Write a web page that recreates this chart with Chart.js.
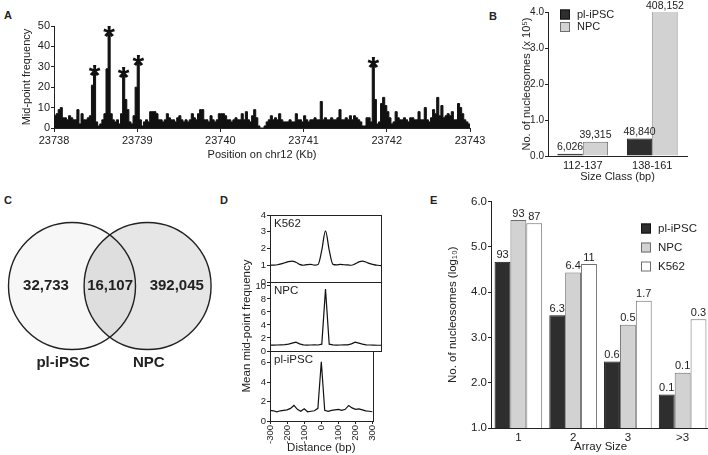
<!DOCTYPE html>
<html>
<head>
<meta charset="utf-8">
<script src="https://cdn.jsdelivr.net/npm/chart.js@4.4.0/dist/chart.umd.min.js"></script>
<style>
  html, body { margin: 0; padding: 0; background: #fff; }
  body { width: 708px; height: 455px; position: relative; overflow: hidden; color: #222;
         font-family: 'Liberation Sans', Arial, sans-serif; }
  .panel { position: absolute; }
  .tag { position: absolute; font: bold 11px 'Liberation Sans', Arial, sans-serif; line-height: 12px; }
</style>
</head>
<body>
<div class="tag" style="left:4px;top:9px">A</div>
<div class="tag" style="left:489px;top:10px">B</div>
<div class="tag" style="left:4px;top:194px">C</div>
<div class="tag" style="left:220px;top:194px">D</div>
<div class="tag" style="left:430px;top:194px">E</div>

<div class="panel" style="left:20px;top:0;width:470px;height:162px"><canvas id="chart-a"></canvas></div>
<div class="panel" style="left:520px;top:0;width:180px;height:184px"><canvas id="chart-b"></canvas></div>
<div class="panel" style="left:0;top:210px;width:230px;height:170px"><canvas id="chart-c"></canvas></div>
<div class="panel" style="left:225px;top:205px;width:160px;height:250px"><canvas id="chart-d1"></canvas></div>
<div class="panel" style="left:225px;top:205px;width:160px;height:250px"><canvas id="chart-d2"></canvas></div>
<div class="panel" style="left:225px;top:205px;width:160px;height:250px"><canvas id="chart-d3"></canvas></div>
<div class="panel" style="left:446px;top:190px;width:264px;height:264px"><canvas id="chart-e"></canvas></div>

<script>
// ── Data ───────────────────────────────────────────────────
// A: mid-point counts on chr12, 25 bp bins from 23738 kb
const binStartKb = 23738;
const binWidthKb = 0.025;
const chr12Counts = [
  6,7,9,10,5,5,4,6,5,4,4,9,2,7,4,4,5,6,21,27,
  3,1,2,4,7,29,46,7,4,3,4,2,7,26,14,9,3,2,6,20,
  32,4,1,3,4,3,8,8,8,7,4,4,3,4,7,5,4,4,3,5,
  6,4,3,4,3,4,7,5,4,7,9,9,4,4,3,6,4,3,4,7,
  7,7,6,4,4,3,4,5,4,4,7,4,8,4,3,6,9,5,1,0,
  0,1,3,4,6,4,5,4,7,4,3,3,3,4,3,3,7,4,4,3,
  6,4,3,4,4,5,4,4,13,4,5,4,4,5,4,4,5,9,4,4,
  5,4,6,4,6,5,4,3,1,1,5,5,3,31,14,2,3,12,15,11,
  8,5,2,3,8,5,4,4,5,4,3,5,5,4,4,8,4,4,10,4,
  3,5,9,7,15,6,11,5,6,7,6,8,4,4,12,10,7,4,3,2
];
const starBins = [19, 26, 33, 40, 153];

// B: nucleosomes per size class
const sizeClasses = ['112-137', '138-161'];
const plIpscSizeCounts = [6026, 48840];
const npcSizeCounts = [39315, 408152];

// C: overlap of nucleosome positions
const vennSets = ['pl-iPSC', 'NPC'];
const vennCounts = [32733, 16107, 392045];

// D: mean mid-point frequency around nucleosome centres
const profileNames = ['K562', 'NPC', 'pl-iPSC'];
const distanceBp = [-300,-280,-260,-240,-220,-200,-180,-160,-140,-120,-100,-80,-60,-40,-20,0,
                    20,40,60,80,100,120,140,160,180,200,220,240,260,280,300];
const k562Profile = [1.00,1.01,1.03,1.08,1.15,1.22,1.25,1.18,1.05,1.00,1.04,1.05,1.01,1.05,1.9,3.05,
                     1.9,1.05,1.02,1.05,1.03,1.02,1.00,1.08,1.20,1.25,1.18,1.10,1.04,1.00,0.98];
const npcProfile = [0.90,0.90,0.92,0.95,0.98,1.05,1.20,1.35,1.10,0.95,0.90,0.92,0.95,0.92,1.05,9.5,
                    1.05,0.95,0.90,0.92,0.95,0.95,1.10,1.35,1.20,1.05,0.95,0.92,0.90,0.88,0.88];
const plIpscProfile = [1.10,1.05,0.95,1.05,1.10,1.15,1.30,1.60,1.20,1.00,1.25,0.95,1.00,1.05,1.30,6.1,
                       1.10,1.00,1.10,1.15,1.20,1.10,1.20,1.60,1.35,1.20,1.25,1.15,1.05,1.00,0.95];

// E: nucleosome arrays (log10 counts) and % labels
const arraySizes = ['1', '2', '3', '>3'];
const plIpscArrayLog = [4.67, 3.49, 2.47, 1.74];
const npcArrayLog = [5.59, 4.43, 3.28, 2.22];
const k562ArrayLog = [5.52, 4.62, 3.81, 3.40];
const plIpscArrayPct = ['93', '6.3', '0.6', '0.1'];
const npcArrayPct = ['93', '6.4', '0.5', '0.1'];
const k562ArrayPct = ['87', '11', '1.7', '0.3'];

// ── Shared style ───────────────────────────────────────────
const FONT = "'Liberation Sans', Arial, sans-serif";
Chart.defaults.font.family = FONT;
Chart.defaults.font.size = 11;
Chart.defaults.color = '#222';
Chart.defaults.animation = false;
Chart.defaults.plugins.legend.display = false;
Chart.defaults.plugins.tooltip.enabled = false;

const INK = '#222';
const DARK = '#2e2e2e', GREY = '#d2d2d2', WHITE = '#ffffff', EDGE = '#6e6e6e';

function tickGrid(len) {
  return { display: true, drawOnChartArea: false, drawTicks: true, tickLength: len, color: INK, lineWidth: 1 };
}
const noGrid = { display: false, drawTicks: false };
const axisBorder = { display: true, color: INK, width: 1 };

function withCommas(n) {
  return String(n).replace(/\B(?=(\d{3})+(?!\d))/g, ',');
}

// ── Plugins ────────────────────────────────────────────────
const starPlugin = {
  id: 'stars',
  afterDatasetsDraw(chart) {
    const ctx = chart.ctx, xs = chart.scales.x, ys = chart.scales.y;
    ctx.save();
    ctx.fillStyle = '#111';
    ctx.font = 'bold 30px ' + FONT;
    ctx.textAlign = 'center';
    ctx.textBaseline = 'alphabetic';
    starBins.forEach(function(b) {
      const x = xs.getPixelForValue(binStartKb + (b + 0.5) * binWidthKb);
      const y = ys.getPixelForValue(chr12Counts[b]);
      ctx.fillText('*', x, y + 12);
    });
    ctx.restore();
  }
};

const barLabelPlugin = {
  id: 'barLabels',
  afterDatasetsDraw(chart, args, opts) {
    const ctx = chart.ctx;
    ctx.save();
    ctx.font = (opts.size || 10.5) + 'px ' + FONT;
    ctx.fillStyle = INK;
    ctx.textAlign = 'center';
    ctx.textBaseline = 'bottom';
    chart.data.datasets.forEach(function(ds, di) {
      chart.getDatasetMeta(di).data.forEach(function(bar, i) {
        const y = Math.max(bar.y, chart.chartArea.top);
        ctx.fillText(ds.valueLabels[i], bar.x, y - 1);
      });
    });
    ctx.restore();
  }
};

const boxLegendPlugin = {
  id: 'boxLegend',
  afterDraw(chart, args, opts) {
    const ctx = chart.ctx;
    ctx.save();
    ctx.font = opts.size + 'px ' + FONT;
    ctx.textBaseline = 'middle';
    chart.data.datasets.forEach(function(ds, i) {
      const y = opts.y + i * opts.gap;
      ctx.fillStyle = ds.backgroundColor;
      ctx.fillRect(opts.x, y - 5, 10, 10);
      ctx.strokeStyle = ds.borderColor;
      ctx.lineWidth = 1;
      ctx.strokeRect(opts.x + 0.5, y - 4.5, 9, 9);
      ctx.fillStyle = INK;
      ctx.fillText(ds.label, opts.x + 17, y);
    });
    ctx.restore();
  }
};

const panelBoxPlugin = {
  id: 'panelBox',
  afterDraw(chart, args, opts) {
    const a = chart.chartArea, ctx = chart.ctx;
    ctx.save();
    ctx.strokeStyle = INK;
    ctx.lineWidth = 1;
    ctx.strokeRect(Math.round(a.left) + 0.5, Math.round(a.top) + 0.5,
                   Math.round(a.right - a.left), Math.round(a.bottom - a.top));
    ctx.font = '11.5px ' + FONT;
    ctx.fillStyle = INK;
    ctx.textBaseline = 'top';
    ctx.fillText(opts.name, a.left + 4, a.top + 3);
    if (opts.yTitle) {
      ctx.translate(opts.yTitle.x, opts.yTitle.y);
      ctx.rotate(-Math.PI / 2);
      ctx.textAlign = 'center';
      ctx.textBaseline = 'middle';
      ctx.fillText(opts.yTitle.text, 0, 0);
    }
    ctx.restore();
  }
};

const vennLayout = { centers: [0, 1.19], countX: [-0.41, 0.6, 1.65], setX: [-0.14, 1.21], setY: -1.21 };
const vennTextPlugin = {
  id: 'vennText',
  afterDatasetsDraw(chart) {
    const ctx = chart.ctx, xs = chart.scales.x, ys = chart.scales.y;
    ctx.save();
    ctx.fillStyle = INK;
    ctx.textAlign = 'center';
    ctx.textBaseline = 'middle';
    ctx.font = 'bold 15px ' + FONT;
    vennCounts.forEach(function(c, i) {
      ctx.fillText(withCommas(c), xs.getPixelForValue(vennLayout.countX[i]), ys.getPixelForValue(0));
    });
    vennSets.forEach(function(s, i) {
      ctx.fillText(s, xs.getPixelForValue(vennLayout.setX[i]), ys.getPixelForValue(vennLayout.setY));
    });
    ctx.restore();
  }
};

// ── A: mid-point histogram ─────────────────────────────────
const histPoints = chr12Counts.map(function(c, i) { return { x: binStartKb + i * binWidthKb, y: c }; });
histPoints.push({ x: binStartKb + chr12Counts.length * binWidthKb, y: chr12Counts[chr12Counts.length - 1] });

new Chart(document.getElementById('chart-a'), {
  type: 'line',
  data: { datasets: [{
    data: histPoints, stepped: 'before', fill: 'origin',
    backgroundColor: '#111', borderColor: '#111', borderWidth: 1, pointRadius: 0
  }] },
  options: {
    responsive: true, maintainAspectRatio: false,
    layout: { padding: { top: 26, right: 20, bottom: 0, left: 0 } },
    scales: {
      x: {
        type: 'linear', min: 23738, max: 23743,
        ticks: { stepSize: 1, padding: 2, callback: function(v) { return String(v); } },
        grid: tickGrid(4), border: axisBorder,
        title: { display: true, text: 'Position on chr12 (Kb)', padding: 0 },
        afterFit: function(s) { s.height = 34; }
      },
      y: {
        min: 0, max: 50,
        ticks: { stepSize: 10, padding: 1, autoSkip: false },
        grid: tickGrid(3), border: axisBorder,
        title: { display: true, text: 'Mid-point frequency', padding: 0 },
        afterFit: function(s) { s.width = 34; }
      }
    }
  },
  plugins: [starPlugin]
});

// ── B: size classes ────────────────────────────────────────
new Chart(document.getElementById('chart-b'), {
  type: 'bar',
  data: {
    labels: sizeClasses,
    datasets: [
      { label: 'pl-iPSC', data: plIpscSizeCounts.map(function(v) { return v / 1e5; }),
        valueLabels: plIpscSizeCounts.map(withCommas),
        backgroundColor: DARK, borderColor: '#111', borderWidth: 1 },
      { label: 'NPC', data: npcSizeCounts.map(function(v) { return v / 1e5; }),
        valueLabels: npcSizeCounts.map(withCommas),
        backgroundColor: GREY, borderColor: EDGE, borderWidth: 1 }
    ]
  },
  options: {
    responsive: true, maintainAspectRatio: false,
    layout: { padding: { top: 12, right: 13, bottom: 0, left: 0 } },
    datasets: { bar: { categoryPercentage: 0.73, barPercentage: 1 } },
    plugins: { barLabels: { size: 10.5 }, boxLegend: { x: 40, y: 14.5, gap: 12.5, size: 11 } },
    scales: {
      x: {
        grid: noGrid, border: axisBorder,
        ticks: { padding: 3 },
        title: { display: true, text: 'Size Class (bp)', padding: 0 },
        afterFit: function(s) { s.height = 28; }
      },
      y: {
        min: 0, max: 4,
        ticks: { stepSize: 1, padding: 1, font: { size: 10 }, includeBounds: false, autoSkip: false,
                 callback: function(v) { return v.toFixed(1); } },
        grid: tickGrid(3), border: axisBorder,
        title: { display: true, text: 'No. of nucleosomes (x 10\u2075)', padding: 0 },
        afterFit: function(s) { s.width = 28; }
      }
    }
  },
  plugins: [barLabelPlugin, boxLegendPlugin]
});

// ── C: Venn ────────────────────────────────────────────────
function vennRadius(ctx) {
  const s = ctx.chart.scales.x;
  return s.getPixelForValue(1) - s.getPixelForValue(0);
}
new Chart(document.getElementById('chart-c'), {
  type: 'scatter',
  data: { datasets: [
    { data: [{ x: vennLayout.centers[0], y: 0 }], order: 1,
      backgroundColor: 'rgba(0,0,0,0.03)', borderColor: INK, borderWidth: 1.4, pointRadius: vennRadius, clip: false },
    { data: [{ x: vennLayout.centers[1], y: 0 }], order: 2,
      backgroundColor: '#e6e6e6', borderColor: INK, borderWidth: 1.4, pointRadius: vennRadius, clip: false }
  ] },
  options: {
    responsive: true, maintainAspectRatio: false,
    layout: { padding: 0 },
    scales: {
      x: { display: false, min: -1.134, max: 2.488 },
      y: { display: false, min: -1.48, max: 1.197 }
    }
  },
  plugins: [vennTextPlugin]
});

// ── D: profiles ────────────────────────────────────────────
function profileChart(id, name, values, yMax, yStep, padTop, padBottom, showX, smooth, yTitle) {
  const xScale = {
    type: 'linear', min: -300, max: 300, display: showX,
    ticks: { stepSize: 100, minRotation: 90, maxRotation: 90, padding: 1, autoSkip: false, font: { size: 9.5 } },
    grid: tickGrid(3), border: axisBorder,
    title: { display: true, text: 'Distance (bp)', padding: 0, font: { size: 11.5 } }
  };
  if (showX) xScale.afterFit = function(s) { s.height = 34; };
  return new Chart(document.getElementById(id), {
    type: 'line',
    data: { datasets: [{
      data: values.map(function(v, i) { return { x: distanceBp[i], y: v }; }),
      borderColor: '#111', borderWidth: 1.2, pointRadius: 0, fill: false,
      cubicInterpolationMode: smooth ? 'monotone' : 'default', tension: 0
    }] },
    options: {
      responsive: true, maintainAspectRatio: false,
      layout: { padding: { top: padTop, right: 4, bottom: padBottom, left: 0 } },
      plugins: { panelBox: { name: name, yTitle: yTitle } },
      scales: {
        x: xScale,
        y: {
          min: 0, max: yMax,
          ticks: { stepSize: yStep, padding: 1, includeBounds: false, autoSkip: false, font: { size: 9.5 } },
          grid: tickGrid(3), border: axisBorder,
          afterFit: function(s) { s.width = 45; }
        }
      }
    },
    plugins: [panelBoxPlugin]
  });
}
profileChart('chart-d1', profileNames[0], k562Profile, 4, 1, 10, 173, false, true, null);
profileChart('chart-d2', profileNames[1], npcProfile, 10.6, 2, 77, 104, false, false,
             { text: 'Mean mid-point frequency', x: 22, y: 121 });
profileChart('chart-d3', profileNames[2], plIpscProfile, 7.2, 2, 146, 0, true, false, null);

// ── E: array sizes ─────────────────────────────────────────
new Chart(document.getElementById('chart-e'), {
  type: 'bar',
  data: {
    labels: arraySizes,
    datasets: [
      { label: 'pl-iPSC', data: plIpscArrayLog, valueLabels: plIpscArrayPct,
        backgroundColor: DARK, borderColor: '#111', borderWidth: 1 },
      { label: 'NPC', data: npcArrayLog, valueLabels: npcArrayPct,
        backgroundColor: GREY, borderColor: EDGE, borderWidth: 1 },
      { label: 'K562', data: k562ArrayLog, valueLabels: k562ArrayPct,
        backgroundColor: WHITE, borderColor: EDGE, borderWidth: 1 }
    ]
  },
  options: {
    responsive: true, maintainAspectRatio: false,
    layout: { padding: { top: 11.5, right: 0, bottom: 0, left: 0 } },
    datasets: { bar: { categoryPercentage: 0.87, barPercentage: 1 } },
    plugins: { barLabels: { size: 11 }, boxLegend: { x: 195, y: 38.5, gap: 19, size: 11.5 } },
    scales: {
      x: {
        grid: noGrid, border: axisBorder,
        ticks: { padding: 3, font: { size: 11.5 } },
        title: { display: true, text: 'Array Size', padding: 0, font: { size: 11.5 } },
        afterFit: function(s) { s.height = 26; }
      },
      y: {
        min: 1, max: 6,
        ticks: { stepSize: 1, padding: 1, autoSkip: false, font: { size: 11.5 },
                 callback: function(v) { return v.toFixed(1); } },
        grid: tickGrid(3), border: axisBorder,
        title: { display: true, text: 'No. of nucleosomes (log\u2081\u2080)', padding: 0, font: { size: 11.5 } },
        afterFit: function(s) { s.width = 45; }
      }
    }
  },
  plugins: [barLabelPlugin, boxLegendPlugin]
});
</script>
</body>
</html>
